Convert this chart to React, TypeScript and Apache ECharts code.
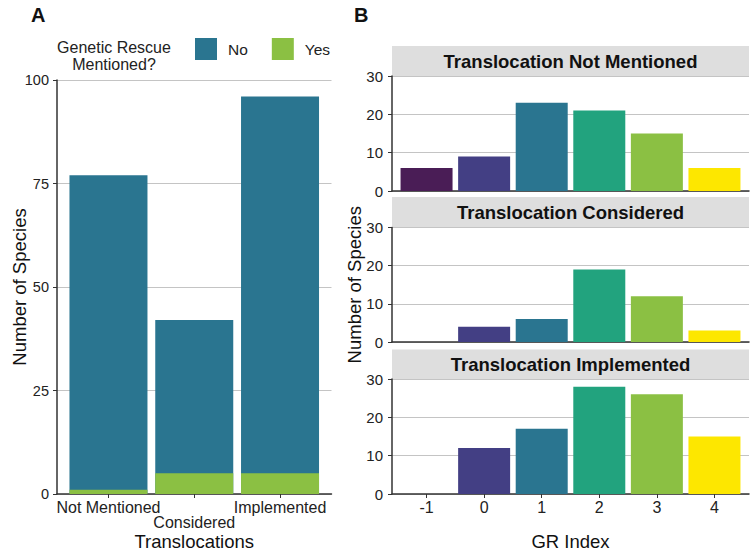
import React, { useEffect, useRef } from "react";
import * as echarts from "echarts";

// Panel A data
const translocationCats = ["Not Mentioned", "Considered", "Implemented"];
const noCounts = [76, 37, 91];
const yesCounts = [1, 5, 5];
const legendNames = ["No", "Yes"];
const legendColors = ["#2a7590", "#8bc043"];
const yTicksA = [0, 25, 50, 75, 100];

// Panel B data
const grIndex = [-1, 0, 1, 2, 3, 4];
const grColors = ["#4a1d56", "#433f84", "#2a7590", "#22a37e", "#8bc043", "#fde700"];
const facetTitles = [
  "Translocation Not Mentioned",
  "Translocation Considered",
  "Translocation Implemented",
];
const notMentionedCounts = [6, 9, 23, 21, 15, 6];
const consideredCounts = [0, 4, 6, 19, 12, 3];
const implementedCounts = [0, 12, 17, 28, 26, 15];
const facetCounts = [notMentionedCounts, consideredCounts, implementedCounts];

const FONT = "Liberation Sans, Arial, Helvetica, sans-serif";
const AXIS_COLOR = "#333";
const GRID_COLOR = "#c4c4c4";

export default function App() {
  const ref = useRef<HTMLDivElement>(null);

  useEffect(() => {
    document.body.style.margin = "0";
    if (!ref.current) return;
    const chart = echarts.init(ref.current, undefined, { renderer: "svg" });

    const facetGrids = [
      { top: 76, height: 115 },
      { top: 227.5, height: 114.5 },
      { top: 379, height: 115 },
    ];
    const stripTops = [46, 197, 349.5];
    const stripH = 30;

    // stacked totals: "No" sits on top of "Yes"
    const totals = noCounts.map((v, i) => v + yesCounts[i]);
    const catPos = translocationCats.map((_, i) => i + 1);
    const staggerTop = catPos.filter((_, i) => i % 2 === 0);
    const staggerBottom = catPos.filter((_, i) => i % 2 === 1);

    const grids: any[] = [
      { left: 57, top: 80, width: 274.5, height: 414, outerBoundsMode: "none", containLabel: false },
      ...facetGrids.map((g) => ({
        left: 392,
        top: g.top,
        width: 357,
        height: g.height,
        outerBoundsMode: "none",
        containLabel: false,
      })),
    ];

    const nameStyle = { fontFamily: FONT, fontSize: 18.5, color: "#111" };
    const catLabel = (v: number) => translocationCats[Math.round(v) - 1] ?? "";

    const xAxes: any[] = [
      {
        gridIndex: 0,
        type: "value",
        position: "bottom",
        min: 0.4,
        max: 3.6,
        splitLine: { show: false },
        axisLine: { show: true, onZero: false, lineStyle: { color: AXIS_COLOR, width: 1.5 } },
        axisTick: { show: true, length: 4, lineStyle: { color: AXIS_COLOR }, customValues: catPos },
        axisLabel: {
          customValues: staggerTop,
          hideOverlap: false,
          fontFamily: FONT,
          fontSize: 16,
          color: "#222",
          margin: 5,
          formatter: catLabel,
        },
        name: "Translocations",
        nameLocation: "middle",
        nameGap: 38,
        nameMoveOverlap: false,
        nameTextStyle: nameStyle,
      },
      ...facetGrids.map((_, k) => ({
        gridIndex: k + 1,
        type: "value",
        min: -1.6,
        max: 4.6,
        splitLine: { show: false },
        axisLine: { show: true, onZero: false, lineStyle: { color: AXIS_COLOR, width: 1.5 } },
        axisTick: { show: k === 2, length: 4, lineStyle: { color: AXIS_COLOR }, customValues: grIndex },
        axisLabel: {
          show: k === 2,
          customValues: grIndex,
          hideOverlap: false,
          fontFamily: FONT,
          fontSize: 16,
          color: "#222",
          margin: 5,
          formatter: (v: number) => String(Math.round(v)),
        },
        name: k === 2 ? "GR Index" : "",
        nameLocation: "middle",
        nameGap: 38,
        nameMoveOverlap: false,
        nameTextStyle: nameStyle,
      })),
      {
        gridIndex: 0,
        type: "value",
        position: "bottom",
        offset: 0,
        min: 0.4,
        max: 3.6,
        splitLine: { show: false },
        axisLine: { show: false },
        axisTick: { show: false },
        axisLabel: {
          customValues: staggerBottom,
          hideOverlap: false,
          fontFamily: FONT,
          fontSize: 16,
          color: "#222",
          margin: 20,
          formatter: catLabel,
        },
      },
    ];

    const yAxes: any[] = [
      {
        gridIndex: 0,
        type: "value",
        min: 0,
        max: 100,
        interval: 25,
        splitLine: { show: true, lineStyle: { color: GRID_COLOR, width: 1 } },
        axisLine: { show: true, onZero: false, lineStyle: { color: AXIS_COLOR, width: 1.5 } },
        axisTick: { show: true, length: 4, lineStyle: { color: AXIS_COLOR } },
        axisLabel: {
          fontFamily: FONT,
          fontSize: 14.5,
          color: "#222",
          margin: 8,
          formatter: (v: number) => (yTicksA.includes(v) ? String(v) : ""),
        },
        name: "Number of Species",
        nameLocation: "middle",
        nameGap: 28,
        nameMoveOverlap: false,
        nameTextStyle: nameStyle,
      },
      ...facetGrids.map((_, k) => ({
        gridIndex: k + 1,
        type: "value",
        min: 0,
        max: 30,
        interval: 10,
        splitLine: { show: true, lineStyle: { color: GRID_COLOR, width: 1 } },
        axisLine: { show: true, onZero: false, lineStyle: { color: AXIS_COLOR, width: 1.5 } },
        axisTick: { show: true, length: 4, lineStyle: { color: AXIS_COLOR } },
        axisLabel: { fontFamily: FONT, fontSize: 15, color: "#222", margin: 9 },
        name: k === 1 ? "Number of Species" : "",
        nameLocation: "middle",
        nameGap: 28,
        nameMoveOverlap: false,
        nameTextStyle: nameStyle,
      })),
    ];

    const series: any[] = [
      {
        name: "No",
        type: "bar",
        xAxisIndex: 0,
        yAxisIndex: 0,
        barWidth: 78,
        barGap: "-100%",
        itemStyle: { color: legendColors[0] },
        data: totals.map((v, i) => [i + 1, v]),
      },
      {
        name: "Yes",
        type: "bar",
        xAxisIndex: 0,
        yAxisIndex: 0,
        barWidth: 78,
        barGap: "-100%",
        z: 3,
        itemStyle: { color: legendColors[1] },
        data: yesCounts.map((v, i) => [i + 1, v]),
      },
      ...facetCounts.map((counts, k) => ({
        name: facetTitles[k],
        type: "bar",
        xAxisIndex: k + 1,
        yAxisIndex: k + 1,
        barWidth: 52,
        data: counts.map((v, i) => ({ value: [grIndex[i], v], itemStyle: { color: grColors[i] } })),
      })),
    ];

    const graphics: any[] = [
      {
        type: "text",
        left: 31,
        top: 5,
        style: { text: "A", fontFamily: FONT, fontSize: 20, fontWeight: "bold", fill: "#111" },
      },
      {
        type: "text",
        left: 354,
        top: 5,
        style: { text: "B", fontFamily: FONT, fontSize: 20, fontWeight: "bold", fill: "#111" },
      },
      {
        type: "text",
        x: 114,
        y: 55.5,
        style: {
          text: "Genetic Rescue\nMentioned?",
          fontFamily: FONT,
          fontSize: 16,
          lineHeight: 17,
          fill: "#222",
          align: "center",
          verticalAlign: "middle",
        },
      },
      ...stripTops.flatMap((t, k) => [
        {
          type: "rect",
          shape: { x: 392, y: t, width: 357, height: stripH },
          style: { fill: "#dedede" },
          z: 0,
        },
        {
          type: "text",
          x: 570.5,
          y: t + stripH / 2,
          style: {
            text: facetTitles[k],
            fontFamily: FONT,
            fontSize: 18.5,
            fontWeight: "bold",
            fill: "#111",
            align: "center",
            verticalAlign: "middle",
          },
          z: 1,
        },
      ]),
    ];

    chart.setOption({
      animation: false,
      backgroundColor: "#fff",
      textStyle: { fontFamily: FONT },
      grid: grids,
      xAxis: xAxes,
      yAxis: yAxes,
      series,
      legend: {
        data: legendNames,
        left: 195,
        top: 38,
        padding: 0,
        icon: "rect",
        itemWidth: 22,
        itemHeight: 22,
        itemGap: 24,
        textStyle: { fontFamily: FONT, fontSize: 15.5, color: "#222", padding: [0, 0, 0, 6] },
      },
      graphic: graphics,
    });

    return () => chart.dispose();
  }, []);

  return <div ref={ref} style={{ width: 750, height: 552 }} />;
}
